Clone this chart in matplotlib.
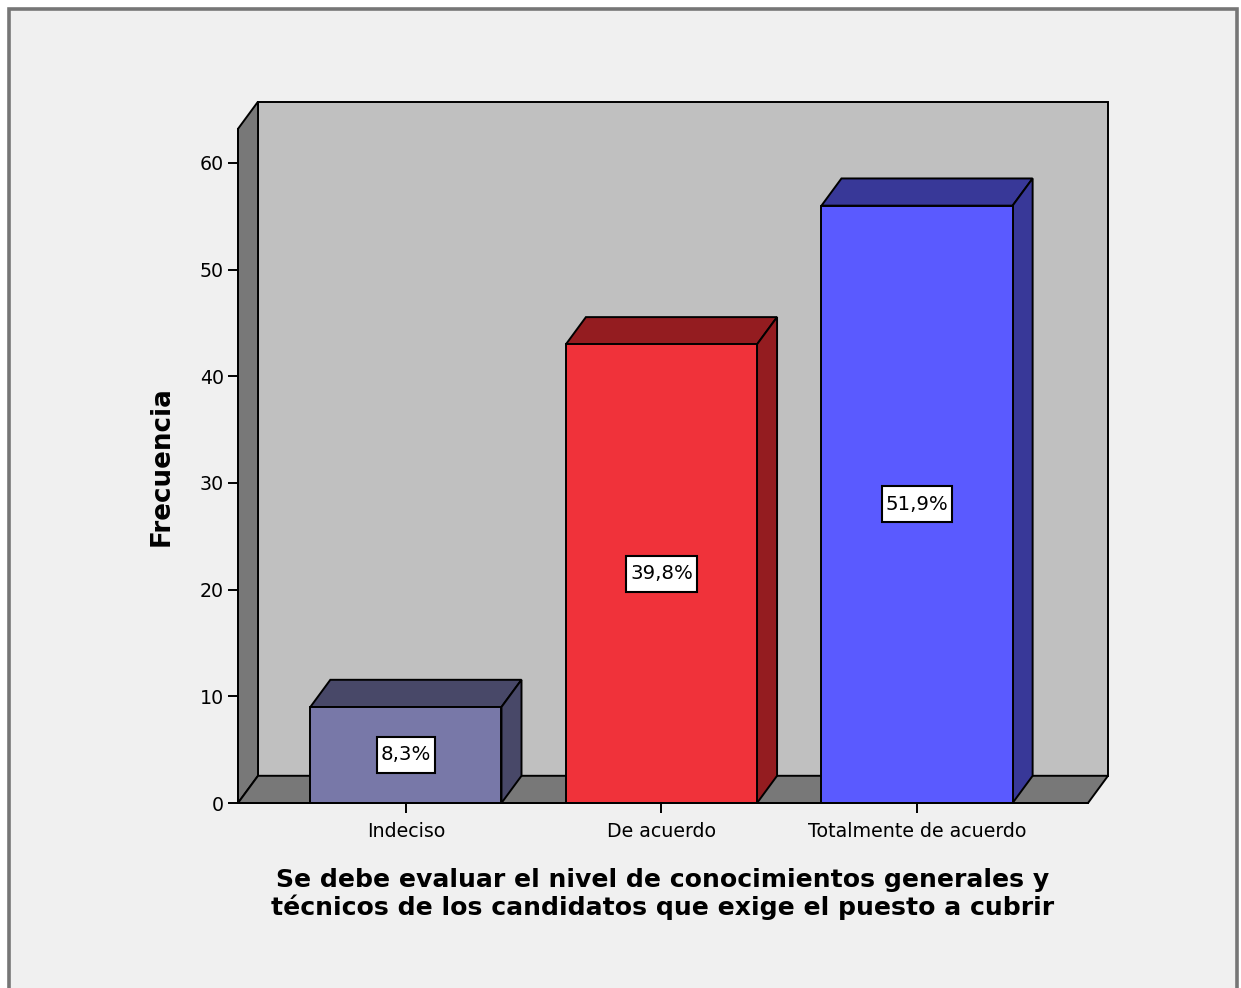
import matplotlib
matplotlib.use("Agg")
import matplotlib.pyplot as plt
from matplotlib.patches import Polygon, Rectangle

# Survey answers and their frequencies
categories = ["Indeciso", "De acuerdo", "Totalmente de acuerdo"]
counts = [9, 43, 56]
y_ticks = [0, 10, 20, 30, 40, 50, 60]
x_title = ("Se debe evaluar el nivel de conocimientos generales y\n"
           "técnicos de los candidatos que exige el puesto a cubrir")
y_title = "Frecuencia"

front_colors = ["#7878a8", "#f0323a", "#5a5aff"]
shade_colors = ["#484868", "#941c20", "#383898"]

total = sum(counts)
pct_labels = [f"{c / total * 100:.1f}".replace(".", ",") + "%" for c in counts]

W, H, DPI = 1241, 988, 100
fig = plt.figure(figsize=(W / DPI, H / DPI), dpi=DPI, facecolor="white")

# panel frame
fig.patches.append(Rectangle((9 / W, -0.05), (1237 - 9) / W, 1.05 - 9 / H,
                             transform=fig.transFigure, facecolor="#f0f0f0",
                             edgecolor="#767676", linewidth=2.6, zorder=-5))

x0, x1 = -0.657, 2.669
ytop = 63.2
ax = fig.add_axes([238 / W, (H - 803) / H, (1088 - 238) / W, ytop * 10.667 / H])
ax.set_zorder(1)
ax.set_xlim(x0, x1)
ax.set_ylim(0, ytop)
ax.patch.set_visible(False)

# depth of the 3D extrusion in data units
DX, DY = 0.0783, 2.55
lw = 1.4

def poly(pts, fc, z):
    ax.add_patch(Polygon(pts, closed=True, facecolor=fc, edgecolor="black",
                         linewidth=lw, clip_on=False, zorder=z, joinstyle="miter"))

# back wall, left wall and floor
poly([(x0 + DX, DY), (x1 + DX, DY), (x1 + DX, ytop + DY), (x0 + DX, ytop + DY)], "#c0c0c0", 1)
poly([(x0, 0), (x0 + DX, DY), (x0 + DX, ytop + DY), (x0, ytop)], "#787878", 2)
poly([(x0, 0), (x1, 0), (x1 + DX, DY), (x0 + DX, DY)], "#787878", 2)

bw = 0.748
value_texts = []
for i, (v, fc, sc, lab) in enumerate(zip(counts, front_colors, shade_colors, pct_labels)):
    l, r = i - bw / 2, i + bw / 2
    poly([(l, v), (r, v), (r + DX, v + DY), (l + DX, v + DY)], sc, 3)
    poly([(r, 0), (r + DX, DY), (r + DX, v + DY), (r, v)], sc, 3)
    poly([(l, 0), (r, 0), (r, v), (l, v)], fc, 4)
    t = ax.text(i, v / 2, lab, ha="center", va="center", fontsize=14.2,
                family="DejaVu Sans", zorder=7)
    value_texts.append(t)

# white label boxes sized around each value text
renderer = fig.canvas.get_renderer()
inv = ax.transData.inverted()
for t in value_texts:
    bb = t.get_window_extent(renderer)
    cx, cy = (bb.x0 + bb.x1) / 2, (bb.y0 + bb.y1) / 2
    hw, hh = bb.width / 2 + 4, 18
    (dx0, dy0), (dx1, dy1) = inv.transform([(cx - hw, cy - hh), (cx + hw, cy + hh)])
    ax.add_patch(Rectangle((dx0, dy0), dx1 - dx0, dy1 - dy0, facecolor="white",
                           edgecolor="black", linewidth=1.5, zorder=6, clip_on=False))

for side in ("top", "right"):
    ax.spines[side].set_visible(False)
for side in ("left", "bottom"):
    ax.spines[side].set_linewidth(lw)
    ax.spines[side].set_zorder(5)

ax.set_yticks(y_ticks)
ax.set_xticks(range(len(categories)))
ax.set_xticklabels(categories)
ax.tick_params(axis="both", direction="out", length=7, width=1.4,
               labelsize=13.7, colors="black")
ax.tick_params(axis="y", pad=3)
ax.tick_params(axis="x", pad=7)
for t in ax.get_xticklabels() + ax.get_yticklabels():
    t.set_family("DejaVu Sans")

ax.set_xlabel(x_title, fontsize=18.1, fontweight="bold", family="DejaVu Sans",
              labelpad=19, linespacing=1.12)
ax.set_ylabel(y_title, fontsize=18.8, fontweight="bold", family="DejaVu Sans",
              labelpad=18)

fig.savefig("out.png", dpi=DPI, facecolor=fig.get_facecolor())
